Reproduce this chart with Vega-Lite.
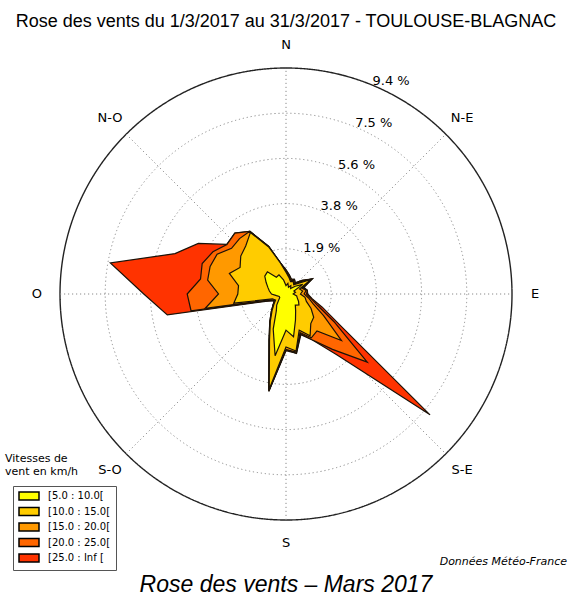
{
  "$schema": "https://vega.github.io/schema/vega-lite/v6.json",
  "width": 452,
  "height": 452,
  "autosize": {"type": "none"},
  "padding": {"left": 60, "top": 68, "right": 57, "bottom": 77},
  "background": "white",
  "config": {"view": {"stroke": null}, "font": "DejaVu Sans"},
  "title": {
    "text": "Rose des vents du 1/3/2017 au 31/3/2017 - TOULOUSE-BLAGNAC",
    "font": "Liberation Sans",
    "fontSize": 18,
    "fontWeight": "normal",
    "color": "black",
    "anchor": "middle",
    "frame": "group",
    "offset": 8
  },
  "data": {"values": [{"n": 1}]},
  "datasets": {
    "rose": [
      {"dir":0,"classe":"[25.0 : Inf [","pct":1.0},{"dir":10,"classe":"[25.0 : Inf [","pct":0.8},{"dir":20,"classe":"[25.0 : Inf [","pct":0.65},{"dir":30,"classe":"[25.0 : Inf [","pct":0.7},{"dir":40,"classe":"[25.0 : Inf [","pct":0.6},{"dir":50,"classe":"[25.0 : Inf [","pct":0.9},{"dir":60,"classe":"[25.0 : Inf [","pct":1.25},{"dir":70,"classe":"[25.0 : Inf [","pct":0.8},{"dir":80,"classe":"[25.0 : Inf [","pct":0.9},{"dir":90,"classe":"[25.0 : Inf [","pct":0.9},{"dir":100,"classe":"[25.0 : Inf [","pct":1.1},{"dir":110,"classe":"[25.0 : Inf [","pct":1.6},{"dir":120,"classe":"[25.0 : Inf [","pct":2.6},{"dir":130,"classe":"[25.0 : Inf [","pct":7.8},{"dir":140,"classe":"[25.0 : Inf [","pct":3.3},{"dir":150,"classe":"[25.0 : Inf [","pct":2.2},{"dir":160,"classe":"[25.0 : Inf [","pct":1.8},{"dir":170,"classe":"[25.0 : Inf [","pct":2.5},{"dir":180,"classe":"[25.0 : Inf [","pct":2.35},{"dir":190,"classe":"[25.0 : Inf [","pct":4.1},{"dir":200,"classe":"[25.0 : Inf [","pct":2.05},{"dir":210,"classe":"[25.0 : Inf [","pct":1.35},{"dir":220,"classe":"[25.0 : Inf [","pct":0.95},{"dir":230,"classe":"[25.0 : Inf [","pct":0.7},{"dir":240,"classe":"[25.0 : Inf [","pct":0.55},{"dir":250,"classe":"[25.0 : Inf [","pct":0.9},{"dir":260,"classe":"[25.0 : Inf [","pct":5.0},{"dir":270,"classe":"[25.0 : Inf [","pct":5.9},{"dir":280,"classe":"[25.0 : Inf [","pct":7.4},{"dir":290,"classe":"[25.0 : Inf [","pct":4.9},{"dir":300,"classe":"[25.0 : Inf [","pct":4.2},{"dir":310,"classe":"[25.0 : Inf [","pct":3.2},{"dir":320,"classe":"[25.0 : Inf [","pct":3.3},{"dir":330,"classe":"[25.0 : Inf [","pct":3.0},{"dir":340,"classe":"[25.0 : Inf [","pct":2.1},{"dir":350,"classe":"[25.0 : Inf [","pct":1.3},
      {"dir":0,"classe":"[20.0 : 25.0[","pct":1.0},{"dir":10,"classe":"[20.0 : 25.0[","pct":0.8},{"dir":20,"classe":"[20.0 : 25.0[","pct":0.65},{"dir":30,"classe":"[20.0 : 25.0[","pct":0.7},{"dir":40,"classe":"[20.0 : 25.0[","pct":0.6},{"dir":50,"classe":"[20.0 : 25.0[","pct":0.85},{"dir":60,"classe":"[20.0 : 25.0[","pct":1.25},{"dir":70,"classe":"[20.0 : 25.0[","pct":0.75},{"dir":80,"classe":"[20.0 : 25.0[","pct":0.9},{"dir":90,"classe":"[20.0 : 25.0[","pct":0.85},{"dir":100,"classe":"[20.0 : 25.0[","pct":1.05},{"dir":110,"classe":"[20.0 : 25.0[","pct":1.4},{"dir":120,"classe":"[20.0 : 25.0[","pct":2.3},{"dir":130,"classe":"[20.0 : 25.0[","pct":4.4},{"dir":140,"classe":"[20.0 : 25.0[","pct":3.0},{"dir":150,"classe":"[20.0 : 25.0[","pct":2.2},{"dir":160,"classe":"[20.0 : 25.0[","pct":1.75},{"dir":170,"classe":"[20.0 : 25.0[","pct":2.5},{"dir":180,"classe":"[20.0 : 25.0[","pct":2.3},{"dir":190,"classe":"[20.0 : 25.0[","pct":4.1},{"dir":200,"classe":"[20.0 : 25.0[","pct":2.05},{"dir":210,"classe":"[20.0 : 25.0[","pct":1.35},{"dir":220,"classe":"[20.0 : 25.0[","pct":0.95},{"dir":230,"classe":"[20.0 : 25.0[","pct":0.7},{"dir":240,"classe":"[20.0 : 25.0[","pct":0.55},{"dir":250,"classe":"[20.0 : 25.0[","pct":0.8},{"dir":260,"classe":"[20.0 : 25.0[","pct":4.0},{"dir":270,"classe":"[20.0 : 25.0[","pct":4.1},{"dir":280,"classe":"[20.0 : 25.0[","pct":3.6},{"dir":290,"classe":"[20.0 : 25.0[","pct":3.7},{"dir":300,"classe":"[20.0 : 25.0[","pct":3.5},{"dir":310,"classe":"[20.0 : 25.0[","pct":3.2},{"dir":320,"classe":"[20.0 : 25.0[","pct":3.3},{"dir":330,"classe":"[20.0 : 25.0[","pct":3.0},{"dir":340,"classe":"[20.0 : 25.0[","pct":2.1},{"dir":350,"classe":"[20.0 : 25.0[","pct":1.3},
      {"dir":0,"classe":"[15.0 : 20.0[","pct":0.95},{"dir":10,"classe":"[15.0 : 20.0[","pct":0.75},{"dir":20,"classe":"[15.0 : 20.0[","pct":0.6},{"dir":30,"classe":"[15.0 : 20.0[","pct":0.65},{"dir":40,"classe":"[15.0 : 20.0[","pct":0.55},{"dir":50,"classe":"[15.0 : 20.0[","pct":0.8},{"dir":60,"classe":"[15.0 : 20.0[","pct":1.25},{"dir":70,"classe":"[15.0 : 20.0[","pct":0.7},{"dir":80,"classe":"[15.0 : 20.0[","pct":0.85},{"dir":90,"classe":"[15.0 : 20.0[","pct":0.75},{"dir":100,"classe":"[15.0 : 20.0[","pct":0.95},{"dir":110,"classe":"[15.0 : 20.0[","pct":1.2},{"dir":120,"classe":"[15.0 : 20.0[","pct":1.8},{"dir":130,"classe":"[15.0 : 20.0[","pct":3.0},{"dir":140,"classe":"[15.0 : 20.0[","pct":2.0},{"dir":150,"classe":"[15.0 : 20.0[","pct":2.1},{"dir":160,"classe":"[15.0 : 20.0[","pct":1.7},{"dir":170,"classe":"[15.0 : 20.0[","pct":2.45},{"dir":180,"classe":"[15.0 : 20.0[","pct":2.3},{"dir":190,"classe":"[15.0 : 20.0[","pct":4.05},{"dir":200,"classe":"[15.0 : 20.0[","pct":2.05},{"dir":210,"classe":"[15.0 : 20.0[","pct":1.3},{"dir":220,"classe":"[15.0 : 20.0[","pct":0.9},{"dir":230,"classe":"[15.0 : 20.0[","pct":0.7},{"dir":240,"classe":"[15.0 : 20.0[","pct":0.55},{"dir":250,"classe":"[15.0 : 20.0[","pct":0.7},{"dir":260,"classe":"[15.0 : 20.0[","pct":3.4},{"dir":270,"classe":"[15.0 : 20.0[","pct":2.8},{"dir":280,"classe":"[15.0 : 20.0[","pct":3.3},{"dir":290,"classe":"[15.0 : 20.0[","pct":3.35},{"dir":300,"classe":"[15.0 : 20.0[","pct":3.3},{"dir":310,"classe":"[15.0 : 20.0[","pct":2.95},{"dir":320,"classe":"[15.0 : 20.0[","pct":3.0},{"dir":330,"classe":"[15.0 : 20.0[","pct":3.0},{"dir":340,"classe":"[15.0 : 20.0[","pct":2.1},{"dir":350,"classe":"[15.0 : 20.0[","pct":1.3},
      {"dir":0,"classe":"[10.0 : 15.0[","pct":0.9},{"dir":10,"classe":"[10.0 : 15.0[","pct":0.7},{"dir":20,"classe":"[10.0 : 15.0[","pct":0.55},{"dir":30,"classe":"[10.0 : 15.0[","pct":0.6},{"dir":40,"classe":"[10.0 : 15.0[","pct":0.5},{"dir":50,"classe":"[10.0 : 15.0[","pct":0.7},{"dir":60,"classe":"[10.0 : 15.0[","pct":1.2},{"dir":70,"classe":"[10.0 : 15.0[","pct":0.6},{"dir":80,"classe":"[10.0 : 15.0[","pct":0.7},{"dir":90,"classe":"[10.0 : 15.0[","pct":0.6},{"dir":100,"classe":"[10.0 : 15.0[","pct":0.8},{"dir":110,"classe":"[10.0 : 15.0[","pct":0.9},{"dir":120,"classe":"[10.0 : 15.0[","pct":1.2},{"dir":130,"classe":"[10.0 : 15.0[","pct":1.5},{"dir":140,"classe":"[10.0 : 15.0[","pct":1.6},{"dir":150,"classe":"[10.0 : 15.0[","pct":2.0},{"dir":160,"classe":"[10.0 : 15.0[","pct":1.6},{"dir":170,"classe":"[10.0 : 15.0[","pct":2.4},{"dir":180,"classe":"[10.0 : 15.0[","pct":2.2},{"dir":190,"classe":"[10.0 : 15.0[","pct":4.0},{"dir":200,"classe":"[10.0 : 15.0[","pct":2.0},{"dir":210,"classe":"[10.0 : 15.0[","pct":1.3},{"dir":220,"classe":"[10.0 : 15.0[","pct":0.9},{"dir":230,"classe":"[10.0 : 15.0[","pct":0.65},{"dir":240,"classe":"[10.0 : 15.0[","pct":0.5},{"dir":250,"classe":"[10.0 : 15.0[","pct":0.6},{"dir":260,"classe":"[10.0 : 15.0[","pct":2.2},{"dir":270,"classe":"[10.0 : 15.0[","pct":2.0},{"dir":280,"classe":"[10.0 : 15.0[","pct":2.0},{"dir":290,"classe":"[10.0 : 15.0[","pct":2.5},{"dir":300,"classe":"[10.0 : 15.0[","pct":2.2},{"dir":310,"classe":"[10.0 : 15.0[","pct":2.45},{"dir":320,"classe":"[10.0 : 15.0[","pct":2.6},{"dir":330,"classe":"[10.0 : 15.0[","pct":2.95},{"dir":340,"classe":"[10.0 : 15.0[","pct":2.06},{"dir":350,"classe":"[10.0 : 15.0[","pct":1.3},
      {"dir":0,"classe":"[5.0 : 10.0[","pct":0.35},{"dir":10,"classe":"[5.0 : 10.0[","pct":0.45},{"dir":20,"classe":"[5.0 : 10.0[","pct":0.3},{"dir":30,"classe":"[5.0 : 10.0[","pct":0.4},{"dir":40,"classe":"[5.0 : 10.0[","pct":0.3},{"dir":50,"classe":"[5.0 : 10.0[","pct":0.5},{"dir":60,"classe":"[5.0 : 10.0[","pct":0.8},{"dir":70,"classe":"[5.0 : 10.0[","pct":0.35},{"dir":80,"classe":"[5.0 : 10.0[","pct":0.4},{"dir":90,"classe":"[5.0 : 10.0[","pct":0.3},{"dir":100,"classe":"[5.0 : 10.0[","pct":0.45},{"dir":110,"classe":"[5.0 : 10.0[","pct":0.5},{"dir":120,"classe":"[5.0 : 10.0[","pct":0.6},{"dir":130,"classe":"[5.0 : 10.0[","pct":0.7},{"dir":140,"classe":"[5.0 : 10.0[","pct":0.6},{"dir":150,"classe":"[5.0 : 10.0[","pct":0.8},{"dir":160,"classe":"[5.0 : 10.0[","pct":1.15},{"dir":170,"classe":"[5.0 : 10.0[","pct":1.8},{"dir":180,"classe":"[5.0 : 10.0[","pct":1.5},{"dir":190,"classe":"[5.0 : 10.0[","pct":2.6},{"dir":200,"classe":"[5.0 : 10.0[","pct":1.55},{"dir":210,"classe":"[5.0 : 10.0[","pct":0.8},{"dir":220,"classe":"[5.0 : 10.0[","pct":0.6},{"dir":230,"classe":"[5.0 : 10.0[","pct":0.4},{"dir":240,"classe":"[5.0 : 10.0[","pct":0.3},{"dir":250,"classe":"[5.0 : 10.0[","pct":0.3},{"dir":260,"classe":"[5.0 : 10.0[","pct":0.4},{"dir":270,"classe":"[5.0 : 10.0[","pct":0.6},{"dir":280,"classe":"[5.0 : 10.0[","pct":0.7},{"dir":290,"classe":"[5.0 : 10.0[","pct":0.8},{"dir":300,"classe":"[5.0 : 10.0[","pct":0.95},{"dir":310,"classe":"[5.0 : 10.0[","pct":1.15},{"dir":320,"classe":"[5.0 : 10.0[","pct":1.2},{"dir":330,"classe":"[5.0 : 10.0[","pct":0.8},{"dir":340,"classe":"[5.0 : 10.0[","pct":0.85},{"dir":350,"classe":"[5.0 : 10.0[","pct":0.6}
    ],
    "dirs": [
      {"dir":0,"label":"N"},{"dir":45,"label":"N-E"},{"dir":90,"label":"E"},{"dir":135,"label":"S-E"},
      {"dir":180,"label":"S"},{"dir":225,"label":"S-O"},{"dir":270,"label":"O"},{"dir":315,"label":"N-O"}
    ],
    "rings": [
      {"r":1.875,"label":"1.9 %"},{"r":3.75,"label":"3.8 %"},{"r":5.625,"label":"5.6 %"},{"r":7.5,"label":"7.5 %"},{"r":9.375,"label":"9.4 %"}
    ]
  },
  "layer": [
    {
      "data": {"name": "rings"},
      "transform": [{"calculate": "0", "as": "cx"}],
      "mark": {"type": "point", "shape": "circle", "filled": false, "opacity": 1},
      "encoding": {
        "x": {"field": "cx", "type": "quantitative", "scale": {"domain": [-9.375, 9.375], "nice": false, "zero": false}, "axis": null},
        "y": {"field": "cx", "type": "quantitative", "scale": {"domain": [-9.375, 9.375], "nice": false, "zero": false}, "axis": null},
        "size": {"field": "r", "type": "quantitative", "scale": {"type": "pow", "exponent": 2, "domain": [0, 9.375], "range": [0, 204304], "zero": true}, "legend": null},
        "stroke": {"condition": {"test": "datum.r > 9", "value": "#222222"}, "value": "#8a8a8a"},
        "strokeWidth": {"condition": {"test": "datum.r > 9", "value": 1.4}, "value": 1},
        "strokeDash": {"condition": {"test": "datum.r > 9", "value": [1, 0]}, "value": [1.2, 2.8]}
      }
    },
    {
      "data": {"name": "dirs"},
      "transform": [
        {"filter": "datum.dir < 180"},
        {"calculate": "9.375 * sin(datum.dir * PI / 180)", "as": "ex"},
        {"calculate": "9.375 * cos(datum.dir * PI / 180)", "as": "ey"},
        {"calculate": "-datum.ex", "as": "bx"},
        {"calculate": "-datum.ey", "as": "by"}
      ],
      "mark": {"type": "rule", "stroke": "#8a8a8a", "strokeWidth": 1, "strokeDash": [1.2, 2.8]},
      "encoding": {
        "x": {"field": "bx", "type": "quantitative"},
        "y": {"field": "by", "type": "quantitative"},
        "x2": {"field": "ex"},
        "y2": {"field": "ey"}
      }
    },
    {
      "data": {"name": "rose"},
      "transform": [
        {"calculate": "datum.pct * sin(datum.dir * PI / 180)", "as": "px"},
        {"calculate": "datum.pct * cos(datum.dir * PI / 180)", "as": "py"}
      ],
      "mark": {"type": "line", "interpolate": "linear-closed", "stroke": "#1a1208", "strokeWidth": 1.2, "strokeJoin": "miter"},
      "encoding": {
        "x": {"field": "px", "type": "quantitative"},
        "y": {"field": "py", "type": "quantitative"},
        "order": {"field": "dir", "type": "quantitative"},
        "fill": {
          "field": "classe",
          "type": "nominal",
          "scale": {
            "domain": ["[5.0 : 10.0[", "[10.0 : 15.0[", "[15.0 : 20.0[", "[20.0 : 25.0[", "[25.0 : Inf ["],
            "range": ["#ffff00", "#ffcc00", "#ff9900", "#ff6600", "#ff3300"]
          },
          "legend": {
            "title": null,
            "orient": "none",
            "legendX": -47,
            "legendY": 418,
            "padding": 5,
            "symbolType": "M-2.5,-1H2.5V1H-2.5Z",
            "symbolSize": 64,
            "symbolOffset": 6,
            "symbolStrokeColor": "black",
            "symbolStrokeWidth": 1.5,
            "symbolOpacity": 1,
            "labelFont": "DejaVu Sans",
            "labelFontSize": 10,
            "labelColor": "black",
            "labelOffset": 14,
            "rowPadding": 1.5,
            "strokeColor": "#555555",
            "fillColor": "white"
          }
        }
      }
    },
    {
      "data": {"name": "dirs"},
      "transform": [
        {"calculate": "10.33 * sin(datum.dir * PI / 180)", "as": "lx"},
        {"calculate": "10.33 * cos(datum.dir * PI / 180)", "as": "ly"}
      ],
      "mark": {"type": "text", "font": "DejaVu Sans", "fontSize": 13, "color": "black", "align": "center", "baseline": "middle"},
      "encoding": {
        "x": {"field": "lx", "type": "quantitative"},
        "y": {"field": "ly", "type": "quantitative"},
        "text": {"field": "label"}
      }
    },
    {
      "data": {"name": "rings"},
      "transform": [
        {"calculate": "datum.r * 0.38268", "as": "tx"},
        {"calculate": "datum.r * 0.92388", "as": "ty"}
      ],
      "mark": {"type": "text", "font": "DejaVu Sans", "fontSize": 13, "color": "black", "align": "left", "baseline": "alphabetic"},
      "encoding": {
        "x": {"field": "tx", "type": "quantitative"},
        "y": {"field": "ty", "type": "quantitative"},
        "text": {"field": "label"}
      }
    },
    {
      "mark": {"type": "text", "text": ["Vitesses de", "vent en km/h"], "font": "DejaVu Sans", "fontSize": 11, "lineHeight": 13.5, "color": "black", "align": "left", "baseline": "alphabetic"},
      "encoding": {
        "x": {"datum": -11.656, "type": "quantitative"},
        "y": {"datum": -6.957, "type": "quantitative"}
      }
    },
    {
      "mark": {"type": "text", "text": "Données Météo-France", "font": "DejaVu Sans", "fontSize": 11, "fontStyle": "italic", "color": "black", "align": "right", "baseline": "alphabetic"},
      "encoding": {
        "x": {"datum": 11.656, "type": "quantitative"},
        "y": {"datum": -11.242, "type": "quantitative"}
      }
    },
    {
      "mark": {"type": "text", "text": "Rose des vents – Mars 2017", "font": "Liberation Sans", "fontSize": 23, "fontStyle": "italic", "color": "black", "align": "center", "baseline": "middle"},
      "encoding": {
        "x": {"datum": 0, "type": "quantitative"},
        "y": {"datum": -12.071, "type": "quantitative"}
      }
    }
  ]
}
